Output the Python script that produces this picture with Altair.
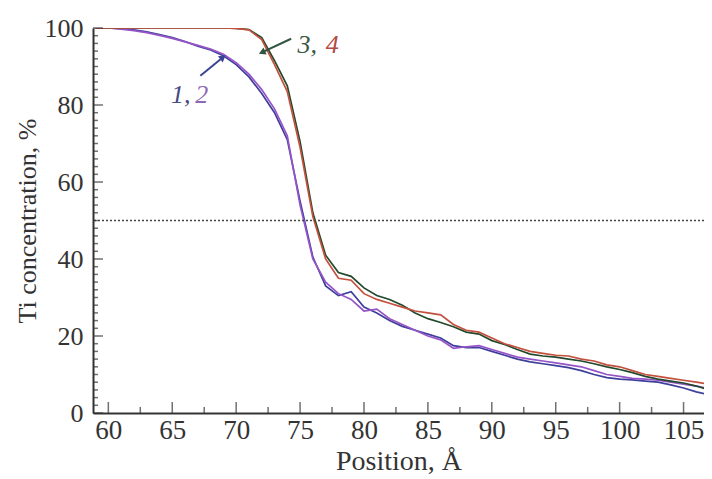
import altair as alt
import pandas as pd

# ---- data ----
positions = list(range(59, 108))

curve1 = [100, 100, 99.8, 99.5, 99, 98.3, 97.5, 96.5, 95.3, 94.3, 92.8, 90.5, 87.3, 83, 78, 71, 55,
          40.5, 33, 30.5, 31.5, 27.5, 26, 24, 22.5, 21.5, 20.5, 19.5, 17.5, 17, 17, 16, 15, 14, 13.3,
          12.8, 12.3, 11.8, 11, 10, 9.2, 8.8, 8.6, 8.3, 8, 7.3, 6.5, 5.5, 4.7]
curve2 = [100, 100, 99.7, 99.3, 98.8, 98.1, 97.3, 96.4, 95.5, 94.5, 93.2, 91, 88, 84, 79, 72, 54,
          40, 34, 31, 29.5, 26.5, 27, 24.5, 23, 21.5, 20, 19, 16.8, 17.2, 17.5, 16.5, 15.5, 14.5, 14,
          13.5, 13, 12.5, 12, 11, 10, 9.5, 9, 8.8, 8.5, 8, 7.5, 7, 6.3]
curve3 = [100, 100, 100, 100, 100, 100, 100, 100, 100, 100, 100, 99.9, 99.6, 97.5, 91.5, 85, 70.5,
          52, 41, 36.5, 35.5, 32.5, 30.5, 29.5, 28, 26, 24.5, 23.5, 22.4, 21, 20.5, 18.8, 17.8, 16.5,
          15.3, 14.8, 14.5, 14, 13.5, 12.8, 12, 11.3, 10.5, 9.5, 8.8, 8.3, 7.8, 7, 6]
curve4 = [100, 100, 100, 100, 100, 100, 100, 100, 100, 100, 100, 99.9, 99.5, 97, 90.5, 83.5, 69,
          51, 40, 35, 34.5, 31, 29.5, 28.5, 27.5, 26.5, 26, 25.5, 23, 21.5, 21, 19.5, 18, 17, 16,
          15.5, 15, 14.8, 14, 13.5, 12.5, 12, 11, 10, 9.5, 9, 8.5, 8, 7.5]

series_names = ["1", "2", "3", "4"]
series_colors = ["#3d3f9a", "#9654c8", "#23492c", "#c4503e"]

x_major = [60, 65, 70, 75, 80, 85, 90, 95, 100, 105]
x_minor = [62.5, 67.5, 72.5, 77.5, 82.5, 87.5, 92.5, 97.5, 102.5]
y_major = [0, 20, 40, 60, 80, 100]
y_minor = [v for v in range(2, 100, 2) if v % 20 != 0]
half_level = [50]

label_text = ["1,", "2", "3,", "4"]
label_x = [64.9, 66.8, 74.8, 77.0]
label_y = [82.6, 82.6, 95.6, 95.6]
label_color = ["#474b86", "#8d68b5", "#3b5a44", "#b24a45"]

arrow_x1 = [67.2, 74.3]
arrow_y1 = [87.6, 97.2]
arrow_x2 = [68.9, 72.1]
arrow_y2 = [92.2, 93.8]
arrow_angle = [52, 246]
arrow_color = ["#3c4592", "#2f5540"]

# ---- tables ----
rows = []
for name, vals in zip(series_names, [curve1, curve2, curve3, curve4]):
    for p, v in zip(positions, vals):
        rows.append({"pos": p, "conc": v, "series": name})
lines_df = pd.DataFrame(rows)

FONT = "Liberation Serif"
AX = "#333333"
XMIN = 58.8

xs = alt.Scale(domain=[XMIN, 106.6], nice=False, zero=False)
ys = alt.Scale(domain=[0, 100], nice=False, zero=False)

X = lambda f="pos": alt.X(f"{f}:Q", scale=xs)
Y = lambda f="conc": alt.Y(f"{f}:Q", scale=ys)

lines = alt.Chart(lines_df).mark_line(strokeWidth=1.7, clip=True).encode(
    x=alt.X("pos:Q", scale=xs, title="Position, Å",
            axis=alt.Axis(values=x_major, ticks=False, grid=False, domainColor=AX, domainWidth=2,
                          labelFont=FONT, labelFontSize=27, labelColor=AX, labelPadding=4,
                          titleFont=FONT, titleFontSize=28, titleFontWeight="normal", titleColor=AX,
                          titlePadding=4, labelFlush=False)),
    y=alt.Y("conc:Q", scale=ys, title="Ti concentration, %",
            axis=alt.Axis(values=y_major, ticks=False, grid=False, domainColor=AX, domainWidth=2,
                          labelFont=FONT, labelFontSize=26, labelColor=AX, labelPadding=10,
                          titleFont=FONT, titleFontSize=26, titleFontWeight="normal", titleColor=AX,
                          titlePadding=4, labelFlush=False)),
    color=alt.Color("series:N", scale=alt.Scale(domain=series_names, range=series_colors), legend=None),
    detail="series:N",
)

dotted = alt.Chart(pd.DataFrame({"conc": half_level})).mark_rule(
    color="#444444", strokeWidth=1.5, strokeDash=[2, 2]
).encode(y=Y())

xmaj = alt.Chart(pd.DataFrame({"pos": x_major, "conc": [0] * len(x_major)})).mark_tick(
    color=AX, size=11, thickness=1.5, orient="vertical", yOffset=-5.5
).encode(x=X(), y=Y())
xmin = alt.Chart(pd.DataFrame({"pos": x_minor, "conc": [0] * len(x_minor)})).mark_tick(
    color=AX, size=6, thickness=1.5, orient="vertical", yOffset=-3
).encode(x=X(), y=Y())
ymaj = alt.Chart(pd.DataFrame({"conc": y_major, "pos": [XMIN] * len(y_major)})).mark_tick(
    color=AX, size=10, thickness=1.5, orient="horizontal", xOffset=5
).encode(x=X(), y=Y())
ymin = alt.Chart(pd.DataFrame({"conc": y_minor, "pos": [XMIN] * len(y_minor)})).mark_tick(
    color=AX, size=5, thickness=1.5, orient="horizontal", xOffset=2.5
).encode(x=X(), y=Y())

labels = alt.Chart(pd.DataFrame({"t": label_text, "pos": label_x, "conc": label_y, "c": label_color})).mark_text(
    font=FONT, fontSize=26, fontStyle="italic", align="left", baseline="middle"
).encode(x=X(), y=Y(), text="t:N", color=alt.Color("c:N", scale=None))

adf = pd.DataFrame({"pos": arrow_x1, "conc": arrow_y1, "pos2": arrow_x2, "conc2": arrow_y2,
                    "a": arrow_angle, "c": arrow_color})
shafts = alt.Chart(adf).mark_rule(strokeWidth=2).encode(
    x=X(), y=Y(), x2="pos2:Q", y2="conc2:Q", color=alt.Color("c:N", scale=None))
heads = alt.Chart(adf).mark_point(shape="triangle", filled=True, size=60, opacity=1).encode(
    x=alt.X("pos2:Q", scale=xs), y=alt.Y("conc2:Q", scale=ys),
    angle=alt.Angle("a:Q", scale=None), color=alt.Color("c:N", scale=None))

chart = alt.layer(lines, dotted, xmaj, xmin, ymaj, ymin, labels, shafts, heads).properties(
    width=611, height=385,
    autosize=alt.AutoSizeParams(type="none"),
    padding={"left": 85, "top": 20, "right": 0, "bottom": 64},
    background="white",
).configure_view(stroke=None)

chart.save("out.html", embed_options={"renderer": "svg", "actions": False})
